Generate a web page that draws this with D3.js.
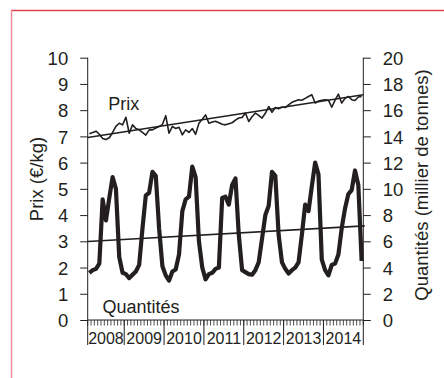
<!DOCTYPE html>
<html>
<head>
	<meta charset="utf-8">
	<title>Prix et quantités</title>
	<script src="https://d3js.org/d3.v7.min.js"></script>
	<style>
		body { margin: 0; background: #fff; }
		text { font-family: 'Liberation Sans', Arial, sans-serif; fill: #231f20; }
	</style>
</head>
<body>
	<div class="chart"></div>

	<script type="text/javascript">

		// années affichées et nombre de mois par année (fév. 2008 -> déc. 2014)
		var years = ['2008', '2009', '2010', '2011', '2012', '2013', '2014']
		var yearMonths = [11, 12, 12, 12, 12, 12, 12]

		// prix mensuel (€/kg), axe de gauche
		var prix = [
			7.10, 7.15, 7.20, 7.08, 6.92, 6.88, 6.95, 7.15, 7.38, 7.50, 7.44,
			7.73, 7.12, 7.44, 7.30, 7.25, 7.15, 7.05, 7.25, 7.25, 7.32, 7.38, 7.45,
			7.79, 7.12, 7.38, 7.30, 7.35, 7.06, 7.25, 7.15, 7.30, 7.08, 7.50, 7.65,
			7.82, 7.50, 7.55, 7.58, 7.52, 7.46, 7.44, 7.48, 7.52, 7.62, 7.70, 7.72,
			7.89, 7.57, 7.75, 7.89, 7.80, 7.70, 7.88, 8.14, 7.92, 8.10, 8.05, 8.12,
			8.10, 8.20, 8.30, 8.35, 8.40, 8.38, 8.45, 8.52, 8.59, 8.27, 8.35, 8.38,
			8.40, 8.38, 8.11, 8.38, 8.61, 8.27, 8.45, 8.52, 8.40, 8.37, 8.50, 8.52
		]

		// quantités mensuelles (milliers de tonnes), axe de droite
		var quantites = [
			3.6, 3.8, 3.9, 4.3, 9.2, 7.6, 9.3, 10.9, 10.0, 4.8, 3.6,
			3.5, 3.2, 3.45, 3.7, 4.2, 7.0, 9.5, 9.7, 11.3, 11.0, 7.0, 4.1,
			3.4, 3.0, 3.7, 3.85, 5.0, 8.3, 9.2, 9.4, 11.7, 10.9, 6.0, 4.0,
			3.1, 3.5, 3.6, 3.9, 4.0, 9.3, 9.4, 8.8, 10.3, 10.8, 6.5, 3.8,
			3.65, 3.5, 3.45, 3.8, 4.4, 6.2, 8.0, 8.7, 11.3, 11.0, 6.5, 4.4,
			3.9, 3.55, 3.8, 4.0, 4.4, 6.5, 8.8, 8.3, 10.2, 12.0, 11.1, 4.6,
			3.8, 3.4, 4.2, 4.3, 5.0, 7.0, 8.5, 9.6, 9.9, 11.4, 10.3, 4.5
		]

		// droites de tendance (début, fin)
		var tendancePrix = [6.96, 8.59]
		var tendanceQuantites = [5.98, 7.18]

		var width = 444
		var height = 378
		var plotLeft = 87.7
		var plotRight = 363.3
		var plotTop = 57.7
		var plotBottom = 320
		var ink = '#231f20'

		/**
		 * 画布 + cadre rouge
		 */
		var svg = d3.select('.chart').append('svg')
			.attr('width', width)
			.attr('height', height)

		svg.append('line')
			.attr('x1', 11).attr('x2', width).attr('y1', 10.5).attr('y2', 10.5)
			.attr('stroke', '#e2404e').attr('stroke-width', 1.5)
		svg.append('line')
			.attr('x1', 11.5).attr('x2', 11.5).attr('y1', 10).attr('y2', height)
			.attr('stroke', '#f08a97').attr('stroke-width', 1.5)

		/**
		 * 比例尺
		 */
		var n = prix.length
		var x = d3.scaleLinear().domain([-0.5, n - 0.5]).range([plotLeft, plotRight])
		var yPrix = d3.scaleLinear().domain([0, 10]).range([plotBottom, plotTop])
		var yQuant = d3.scaleLinear().domain([0, 20]).range([plotBottom, plotTop])

		/**
		 * 坐标轴
		 */
		var axisL = svg.append('g')
			.attr('transform', `translate(${plotLeft}, 0)`)
			.call(d3.axisLeft(yPrix).ticks(10).tickSize(7.5).tickPadding(12))
		var axisR = svg.append('g')
			.attr('transform', `translate(${plotRight}, 0)`)
			.call(d3.axisRight(yQuant).ticks(10).tickSize(7.5).tickPadding(12))

		;[axisL, axisR].forEach(function(g) {
			g.select('.domain').attr('stroke', ink).attr('d', `M0,${plotBottom}V${plotTop}`)
			g.selectAll('.tick line').attr('stroke', ink)
			g.selectAll('.tick text')
				.style('font-size', '18.5px')
				.attr('dy', '0.36em')
		})

		// axe horizontal
		svg.append('line')
			.attr('x1', plotLeft).attr('x2', plotRight).attr('y1', plotBottom).attr('y2', plotBottom)
			.attr('stroke', ink)

		// petites graduations mensuelles
		var monthTicks = d3.range(n + 1).map((i) => i - 0.5)
		svg.append('g').selectAll('line')
			.data(monthTicks)
			.enter()
			.append('line')
			.attr('x1', (d) => x(d)).attr('x2', (d) => x(d))
			.attr('y1', plotBottom).attr('y2', plotBottom + 5.5)
			.attr('stroke', ink).attr('stroke-width', 0.8)

		// séparateurs d'années et libellés
		var bounds = [0]
		yearMonths.forEach((m, i) => bounds.push(bounds[i] + m))

		svg.append('g').selectAll('line')
			.data(bounds)
			.enter()
			.append('line')
			.attr('x1', (d) => x(d - 0.5)).attr('x2', (d) => x(d - 0.5))
			.attr('y1', plotBottom).attr('y2', plotBottom + 25)
			.attr('stroke', ink)

		svg.append('g').selectAll('text')
			.data(years)
			.enter()
			.append('text')
			.attr('x', (d, i) => (x(bounds[i] - 0.5) + x(bounds[i + 1] - 0.5)) / 2)
			.attr('y', 343.5)
			.attr('text-anchor', 'middle')
			.style('font-size', '16px')
			.text((d) => d)

		// titres des axes
		svg.append('text')
			.attr('transform', 'translate(42.5, 179) rotate(-90)')
			.attr('text-anchor', 'middle')
			.style('font-size', '18.5px')
			.text('Prix (€/kg)')
		svg.append('text')
			.attr('transform', 'translate(428, 185) rotate(-90)')
			.attr('text-anchor', 'middle')
			.style('font-size', '18.5px')
			.text('Quantités (millier de tonnes)')

		/**
		 * 折线
		 */
		var linePrix = d3.line().x((d, i) => x(i)).y((d) => yPrix(d))
		var lineQuant = d3.line().x((d, i) => x(i)).y((d) => yQuant(d))

		svg.append('path')
			.datum(prix)
			.attr('d', linePrix)
			.attr('fill', 'none').attr('stroke', ink)
			.attr('stroke-width', 1.6).attr('stroke-linejoin', 'round')

		svg.append('path')
			.datum(quantites)
			.attr('d', lineQuant)
			.attr('fill', 'none').attr('stroke', ink)
			.attr('stroke-width', 4.2).attr('stroke-linejoin', 'round')

		// tendances
		svg.append('line')
			.attr('x1', plotLeft).attr('x2', plotRight)
			.attr('y1', yPrix(tendancePrix[0])).attr('y2', yPrix(tendancePrix[1]))
			.attr('stroke', ink).attr('stroke-width', 1.6)
		svg.append('line')
			.attr('x1', plotLeft).attr('x2', plotRight + 1.5)
			.attr('y1', yQuant(tendanceQuantites[0])).attr('y2', yQuant(tendanceQuantites[1]))
			.attr('stroke', ink).attr('stroke-width', 1.6)

		/**
		 * étiquettes des séries
		 */
		svg.append('text')
			.attr('x', 108.3).attr('y', 110)
			.style('font-size', '18px')
			.text('Prix')
		svg.append('text')
			.attr('x', 102.5).attr('y', 313)
			.style('font-size', '18px')
			.text('Quantités')

	</script>
</body>
</html>
